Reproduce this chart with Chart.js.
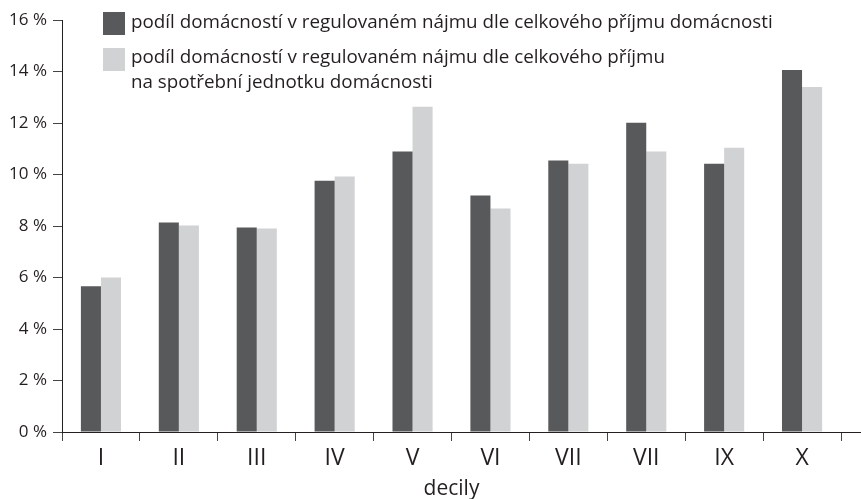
<!DOCTYPE html>
<html>
<head>
<meta charset="utf-8">
<script src="https://cdn.jsdelivr.net/npm/chart.js@4"></script>
<style>
  html, body { margin: 0; padding: 0; background: #fff; }
  #wrap { width: 861px; height: 499px; position: relative; }
</style>
</head>
<body>
<div id="wrap"><canvas id="c"></canvas></div>
<script>
// decily (labels as printed in the source, incl. the doubled "VII")
const categories = ["I", "II", "III", "IV", "V", "VI", "VII", "VII", "IX", "X"];
// share of households in regulated rent, %
const byTotalIncome = [5.66, 8.14, 7.94, 9.76, 10.89, 9.18, 10.54, 12.01, 10.42, 14.06];
const byConsumerUnitIncome = [6.0, 8.02, 7.9, 9.92, 12.63, 8.68, 10.42, 10.89, 11.04, 13.4];
const yTicks = [0, 2, 4, 6, 8, 10, 12, 14, 16];

const legendLines = [
  ["podíl domácností v regulovaném nájmu dle celkového příjmu domácnosti"],
  ["podíl domácností v regulovaném nájmu dle celkového příjmu", "na spotřební jednotku domácnosti"],
];

const dark = "#58595b";
const light = "#d1d2d4";
const ink = "#231f20";
const FONT = "'Open Sans', 'Noto Sans', sans-serif";

// legend + axis extension drawn by hand
const extras = {
  id: "extras",
  afterDraw(chart) {
    const ctx = chart.ctx;
    const area = chart.chartArea;
    ctx.save();
    // x axis line runs on to the right edge
    ctx.strokeStyle = ink;
    ctx.lineWidth = 1;
    ctx.beginPath();
    ctx.moveTo(area.right, area.bottom + 0.5);
    ctx.lineTo(chart.width, area.bottom + 0.5);
    ctx.stroke();

    // fit legend font so the first line spans like the original
    let size = 18;
    ctx.font = size + "px " + FONT;
    const w = ctx.measureText(legendLines[0][0]).width;
    size = size * 642 / w;
    ctx.font = size + "px " + FONT;
    ctx.textBaseline = "alphabetic";

    const colors = [dark, light];
    const boxTop = [12, 48];
    const baselines = [[28], [63, 88]];
    legendLines.forEach((lines, i) => {
      ctx.fillStyle = colors[i];
      ctx.fillRect(103, boxTop[i], 22, 23);
      ctx.fillStyle = ink;
      lines.forEach((t, j) => ctx.fillText(t, 131, baselines[i][j]));
    });
    ctx.restore();
  }
};

new Chart(document.getElementById("c"), {
  type: "bar",
  data: {
    labels: categories,
    datasets: [
      { label: "dle celkového příjmu domácnosti", data: byTotalIncome, backgroundColor: dark },
      { label: "dle příjmu na spotřební jednotku", data: byConsumerUnitIncome, backgroundColor: light },
    ],
  },
  options: {
    responsive: true,
    maintainAspectRatio: false,
    animation: false,
    layout: { padding: { top: 20, right: 20, left: 0, bottom: 0 } },
    plugins: { legend: { display: false }, tooltip: { enabled: false } },
    datasets: { bar: { categoryPercentage: 0.515, barPercentage: 1 } },
    scales: {
      x: {
        offset: true,
        afterFit(scale) { scale.height = 67; },
        border: { color: ink, width: 1 },
        grid: { offset: true, drawOnChartArea: false, drawTicks: true, tickLength: 9, color: "#444" },
        ticks: { color: ink, padding: 4, font: { family: FONT, size: 23 }, maxRotation: 0 },
        title: {
          display: true, text: "decily", color: ink,
          font: { family: FONT, size: 21 }, padding: { top: 0, bottom: -3 },
        },
      },
      y: {
        min: 0,
        max: 16,
        afterFit(scale) { scale.width = 62; },
        afterBuildTicks(scale) { scale.ticks = yTicks.map(v => ({ value: v })); },
        border: { color: ink, width: 1 },
        grid: { drawOnChartArea: false, drawTicks: true, tickLength: 9, color: "#444" },
        ticks: {
          color: ink, padding: 6, font: { family: FONT, size: 17 },
          callback: v => v + " %",
        },
      },
    },
  },
  plugins: [extras],
});
</script>
</body>
</html>
